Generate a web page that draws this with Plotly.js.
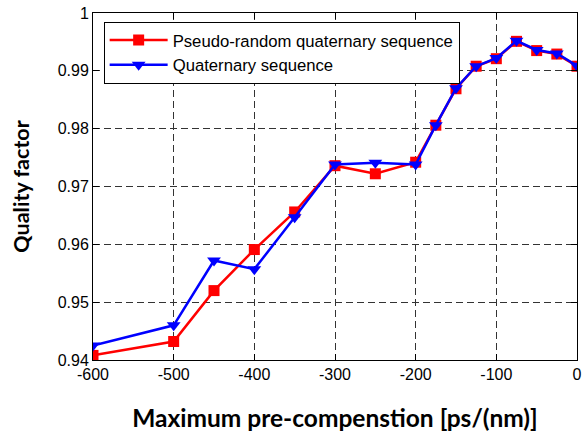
<!DOCTYPE html>
<html>
<head>
<meta charset="utf-8">
<script src="https://cdn.plot.ly/plotly-3.0.1.min.js"></script>
<style>html,body{margin:0;padding:0;background:#fff;}#chart{width:583px;height:437px;}</style>
</head>
<body>
<div id="chart"></div>
<script>
const xValues = [-600, -500, -450, -400, -350, -300, -250, -200, -175, -150, -125, -100, -75, -50, -25, 0];
const pseudoRandom = [0.9408, 0.9432, 0.9520, 0.9591, 0.9656, 0.9736, 0.9722, 0.9742, 0.9806, 0.9869, 0.9908, 0.9921, 0.9951, 0.9935, 0.9929, 0.9908];
const quaternary = [0.9425, 0.9460, 0.9572, 0.9557, 0.9647, 0.9738, 0.9741, 0.9738, 0.9806, 0.9870, 0.9908, 0.9922, 0.9952, 0.9936, 0.9930, 0.9909];
const xTicks = [-600, -500, -400, -300, -200, -100, 0];
const xTickText = ['-600', '-500', '-400', '-300', '-200', '-100', '0'];
const yTicks = [0.94, 0.95, 0.96, 0.97, 0.98, 0.99, 1];
const yTickText = ['0.94', '0.95', '0.96', '0.97', '0.98', '0.99', '1'];
const seriesNames = ['Pseudo-random quaternary sequence', 'Quaternary sequence'];

const traces = [
  {x: xValues, y: pseudoRandom, name: seriesNames[0], mode: 'lines+markers',
   line: {color: '#ff0000', width: 2.5}, marker: {symbol: 'square', size: 11, color: '#ff0000'}},
  {x: xValues, y: quaternary, name: seriesNames[1], mode: 'lines+markers',
   line: {color: '#0000ff', width: 2.5}, marker: {symbol: 'triangle-down', size: 12, color: '#0000ff'}}
];

const axisCommon = {
  showline: true, linecolor: '#000', linewidth: 1, mirror: 'ticks',
  ticks: 'inside', ticklen: 6, tickcolor: '#000', tickwidth: 1,
  showgrid: true, gridcolor: '#333', gridwidth: 1, griddash: '7px,4px',
  zeroline: false, tickfont: {family: 'Liberation Sans, Arial, sans-serif', size: 16, color: '#000'}
};

const layout = {
  width: 583, height: 437,
  margin: {l: 93, r: 6, t: 13, b: 77},
  paper_bgcolor: '#fff', plot_bgcolor: '#fff',
  showlegend: true,
  xaxis: Object.assign({}, axisCommon, {
    range: [-600, 0], tickvals: xTicks, ticktext: xTickText,
    title: {text: 'Maximum pre-compenstion [ps/(nm)]', standoff: 27,
            font: {family: 'Lato, sans-serif', size: 24.5, color: '#000', weight: 'bold'}}
  }),
  yaxis: Object.assign({}, axisCommon, {
    range: [0.94, 1], tickvals: yTicks, ticktext: yTickText,
    title: {text: 'Quality factor', standoff: 22,
            font: {family: 'Lato, sans-serif', size: 21.5, color: '#000', weight: 'bold'}}
  }),
  legend: {
    x: 0.022, y: 0.975, xanchor: 'left', yanchor: 'top',
    bgcolor: '#fff', bordercolor: '#000', borderwidth: 1,
    font: {family: 'Liberation Sans, Arial, sans-serif', size: 16.7, color: '#000'},
    itemwidth: 58, tracegroupgap: 0
  }
};

Plotly.newPlot('chart', traces, layout, {displayModeBar: false, staticPlot: true});
</script>
</body>
</html>
